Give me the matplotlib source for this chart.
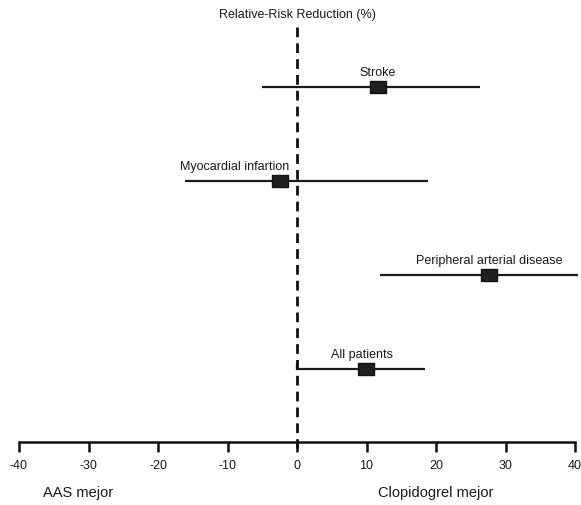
import numpy as np
import matplotlib
matplotlib.use('Agg')
import matplotlib.pyplot as plt

# Relative-risk reduction (%) per subgroup: point estimate and 95% CI
groups = ["Stroke", "Myocardial infartion", "Peripheral arterial disease", "All patients"]
estimates = [11.6, -2.4, 27.6, 9.9]
ci_low = [-5.0, -16.1, 11.9, 0.0]
ci_high = [26.3, 18.8, 40.4, 18.4]
xticks = [-40, -30, -20, -10, 0, 10, 20, 30, 40]

plt.rcParams['font.family'] = ['Liberation Sans', 'DejaVu Sans']

# horizontal shift of each label relative to its estimate (data units)
label_shift = [0.0, -6.6, 0.0, -0.5]

def main():
    fig = plt.figure(figsize=(5.81, 5.06), dpi=100)
    ax = fig.add_axes([0, 0, 1, 1])
    # x pixel = 297 + 6.95*v ; row pixel = 88 + 94*i
    ax.set_xlim(-297 / 6.95, (581 - 297) / 6.95)
    ax.set_ylim((506 - 88) / 94, -88 / 94)

    box = [(-1, -0.7), (1, -0.7), (1, 0.7), (-1, 0.7), (-1, -0.7)]
    rows = np.arange(len(groups))
    for i, g in enumerate(groups):
        ax.plot([ci_low[i], ci_high[i]], [rows[i], rows[i]], color='#1a1a1a', lw=1.6,
                solid_capstyle='butt')
        ax.plot(estimates[i], rows[i], marker=box, ms=12, color='#202020', mec='#111111')
        ax.text(estimates[i] + label_shift[i], rows[i] - 0.1, g, ha='center', va='bottom',
                fontsize=9, color='#1a1a1a')

    # small corner tick on the "All patients" row
    ax.plot([0, 0], [3 - 0.05, 3], color='#1a1a1a', lw=1.6)

    # dashed reference line at 0
    ax.plot([0, 0], [-0.64, 3.9], color='#111111', lw=2, linestyle=(0, (3.5, 2.2)))

    ax.text(0, -0.78, "Relative-Risk Reduction (%)", ha='center', va='center',
            fontsize=9, color='#1a1a1a')

    # x axis
    for s in ['left', 'right', 'top']:
        ax.spines[s].set_visible(False)
    ax.spines['bottom'].set_position(('data', (443 - 88) / 94))
    ax.spines['bottom'].set_bounds(-40, 40)
    ax.spines['bottom'].set_linewidth(1.8)
    ax.spines['bottom'].set_color('#111111')
    ax.set_yticks([])
    ax.set_xticks(xticks)
    ax.set_xticklabels([str(t) for t in xticks], fontsize=9, color='#1a1a1a')
    ax.tick_params(axis='x', direction='out', length=7, width=1.8, pad=5, colors='#111111')
    for lbl in ax.get_xticklabels():
        lbl.set_color('#1a1a1a')

    ax.text(-36.6, (493 - 88) / 94, "AAS mejor", ha='left', va='center',
            fontsize=10.5, color='#1a1a1a')
    ax.text(11.7, (493 - 88) / 94, "Clopidogrel mejor", ha='left', va='center',
            fontsize=10.5, color='#1a1a1a')

    fig.savefig("out.png", dpi=100)


if __name__ == "__main__":
    main()
